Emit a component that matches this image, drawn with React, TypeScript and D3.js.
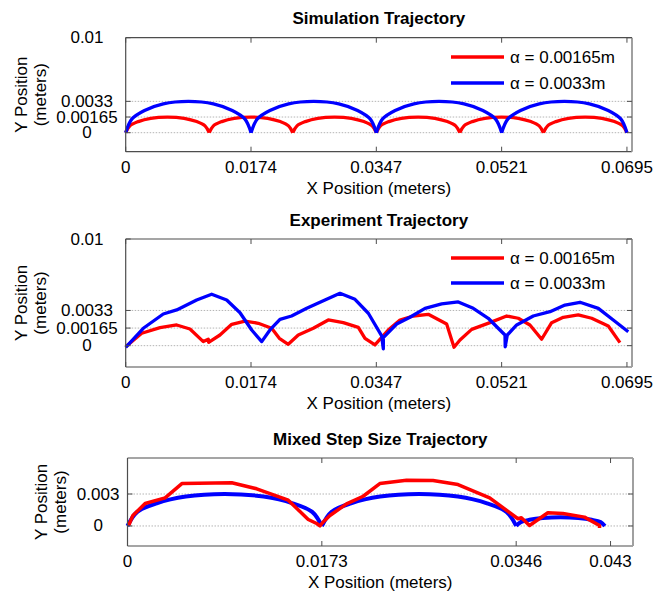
import React from "react";
import * as d3 from "d3";

// ---------- data (meters) ----------
const simXTicks = [0, 0.017375, 0.03475, 0.052125, 0.0695];
const simXTickLabels = ["0", "0.0174", "0.0347", "0.0521", "0.0695"];
const simYTicks = [0, 0.00165, 0.0033, 0.01];
const simYTickLabels = ["0", "0.00165", "0.0033", "0.01"];
const mixXTicks = [0, 0.0173, 0.0346, 0.043];
const mixXTickLabels = ["0", "0.0173", "0.0346", "0.043"];
const mixYTicks = [0, 0.003];
const mixYTickLabels = ["0", "0.003"];

const legendLabels = ["α = 0.00165m", "α = 0.0033m"];
const seriesColors = ["#ff0000", "#0000ff"];

// Simulation, alpha = 0.00165 m
const simRedX = [
  0, 0.00058, 0.00174, 0.00347, 0.00579, 0.00811, 0.00985, 0.011, 0.01158,
  0.01216, 0.01332, 0.01505, 0.01737, 0.01969, 0.02143, 0.02258, 0.02317,
  0.02375, 0.02491, 0.02664, 0.02896, 0.03128, 0.03302, 0.03417, 0.03475,
  0.03533, 0.03649, 0.03822, 0.04054, 0.04286, 0.0446, 0.04575, 0.04633,
  0.04691, 0.04807, 0.0498, 0.05212, 0.05444, 0.05618, 0.05733, 0.05792,
  0.0585, 0.05966, 0.06139, 0.06371, 0.06603, 0.06777, 0.06892, 0.0695,
];
const simRedY = [
  0, 0.00072, 0.00117, 0.00152, 0.00165, 0.00152, 0.00117, 0.00072, 0,
  0.00072, 0.00117, 0.00152, 0.00165, 0.00152, 0.00117, 0.00072, 0,
  0.00072, 0.00117, 0.00152, 0.00165, 0.00152, 0.00117, 0.00072, 0,
  0.00072, 0.00117, 0.00152, 0.00165, 0.00152, 0.00117, 0.00072, 0,
  0.00072, 0.00117, 0.00152, 0.00165, 0.00152, 0.00117, 0.00072, 0,
  0.00072, 0.00117, 0.00152, 0.00165, 0.00152, 0.00117, 0.00072, 0,
];
// Simulation, alpha = 0.0033 m
const simBlueX = [
  0, 0.00087, 0.00261, 0.00521, 0.00869, 0.01216, 0.01477, 0.01651, 0.01738,
  0.01825, 0.01999, 0.02259, 0.02607, 0.02954, 0.03215, 0.03389, 0.03475,
  0.03562, 0.03736, 0.03996, 0.04344, 0.04691, 0.04952, 0.05126, 0.05213,
  0.053, 0.05474, 0.05734, 0.06082, 0.06429, 0.0669, 0.06864, 0.0695,
];
const simBlueY = [
  0, 0.00145, 0.00234, 0.00304, 0.0033, 0.00304, 0.00234, 0.00145, 0,
  0.00145, 0.00234, 0.00304, 0.0033, 0.00304, 0.00234, 0.00145, 0,
  0.00145, 0.00234, 0.00304, 0.0033, 0.00304, 0.00234, 0.00145, 0,
  0.00145, 0.00234, 0.00304, 0.0033, 0.00304, 0.00234, 0.00145, 0,
];

// Experiment, alpha = 0.00165 m
const expRedX = [
  0, 0.00222, 0.00476, 0.00707, 0.00891, 0.01076, 0.01145, 0.0115, 0.01307,
  0.0147, 0.01654, 0.01838, 0.02024, 0.0213, 0.02254, 0.02393, 0.02601,
  0.02809, 0.03017, 0.03225, 0.03318, 0.03456, 0.0364, 0.03803, 0.03987,
  0.04195, 0.0445, 0.04552, 0.04635, 0.04797, 0.0505, 0.05282, 0.05443,
  0.05605, 0.05767, 0.05906, 0.06067, 0.06275, 0.06461, 0.06691, 0.06853,
];
const expRedY = [
  -0.0001, 0.00116, 0.00169, 0.00194, 0.00156, 0.00038, 0.0006, 0.00031, 0.001,
  0.002, 0.00231, 0.0021, 0.00163, 0.00069, 0.00013, 0.001, 0.00163,
  0.00241, 0.00216, 0.00172, 0.00069, 0.00007, 0.00147, 0.00241, 0.00278,
  0.00294, 0.00203, -0.00015, 0.00053, 0.00153, 0.00216, 0.00278, 0.00257,
  0.00194, 0.0006, 0.00216, 0.00266, 0.00288, 0.00257, 0.00185, 0.00028,
];
// Experiment, alpha = 0.0033 m
const expBlueX = [
  0, 0.00244, 0.00521, 0.00707, 0.00984, 0.01192, 0.014, 0.01585, 0.01747,
  0.01886, 0.02, 0.02139, 0.023, 0.0251, 0.02763, 0.02971, 0.03179, 0.03364,
  0.03549, 0.03572, 0.03572, 0.03757, 0.03941, 0.0415, 0.04381, 0.04611,
  0.04819, 0.05027, 0.05189, 0.05259, 0.05262, 0.05291, 0.05421, 0.05651,
  0.05883, 0.06091, 0.06299, 0.06553, 0.0676, 0.06968,
];
const expBlueY = [
  -0.00015, 0.00163, 0.00297, 0.00335, 0.00428, 0.00482, 0.00428, 0.00309, 0.00147,
  0.00038, 0.00147, 0.00247, 0.00278, 0.0035, 0.00428, 0.00491, 0.00435, 0.00304,
  0.00091, -0.0003, 0.00075, 0.00203, 0.00266, 0.0035, 0.00391, 0.0041,
  0.0035, 0.00257, 0.00147, 0.001, -0.0001, 0.001, 0.00194, 0.00278,
  0.00319, 0.00381, 0.00407, 0.0035, 0.00241, 0.00131,
];

// Mixed step size (red = experiment, blue = simulation)
const mixRedX = [
  0.0001, 0.00048, 0.00157, 0.00335, 0.00484, 0.00928, 0.0115, 0.01431, 0.01609,
  0.01684, 0.01713, 0.0174, 0.01802, 0.0195, 0.02098, 0.02246, 0.02484, 0.0272,
  0.02942, 0.03224, 0.03476, 0.03506, 0.03579, 0.03742, 0.03876, 0.04068, 0.04202,
  0.04202,
];
const mixRedY = [
  0.00005, 0.00098, 0.00211, 0.00264, 0.00398, 0.00405, 0.00349, 0.00242, 0.00061,
  0.00023, 0, 0.00035, 0.00098, 0.00208, 0.00279, 0.00398, 0.00429, 0.00427,
  0.00389, 0.00264, 0.00068, 0.00077, 0.00005, 0.00124, 0.00117, 0.00083, 0.00005,
  -0.0002,
];
const mixBlueX = [
  0, 0.00087, 0.0026, 0.00519, 0.00865, 0.01211, 0.0147, 0.01644, 0.0173,
  0.01817, 0.0199, 0.02249, 0.02595, 0.02941, 0.032, 0.03374, 0.0346,
  0.035, 0.03579, 0.03697, 0.03855, 0.04013, 0.04132, 0.04211, 0.0425,
];
const mixBlueY = [
  0, 0.00132, 0.00213, 0.00276, 0.003, 0.00276, 0.00213, 0.00132, 0,
  0.00132, 0.00213, 0.00276, 0.003, 0.00276, 0.00213, 0.00132, 0,
  0.00036, 0.00058, 0.00075, 0.00082, 0.00075, 0.00058, 0.00036, 0,
];

// ---------- rendering ----------
const FONT = "'Liberation Sans', Arial, Helvetica, sans-serif";
const FS = 17;

type Pt = [number, number];
const zip = (xs: number[], ys: number[]): Pt[] => xs.map((x, i) => [x, ys[i]]);

// split a bouncing trajectory into separate arcs at its landing points
function splitArcs(pts: Pt[]): Pt[][] {
  const segs: Pt[][] = [];
  let cur: Pt[] = [];
  pts.forEach((p, i) => {
    cur.push(p);
    if (i > 0 && i < pts.length - 1 && p[1] === 0) {
      segs.push(cur);
      cur = [p];
    }
  });
  segs.push(cur);
  return segs;
}

type Series = { pts: Pt[]; color: string; smooth: boolean; width?: number };

type PanelProps = {
  title: string;
  box: { x0: number; x1: number; y0: number; y1: number };
  xDomain: [number, number];
  yDomain: [number, number];
  xTicks: number[];
  xTickLabels: string[];
  yTicks: number[];
  yTickLabels: string[];
  series: Series[];
  legend: boolean;
  legendY: number[];
  titleY: number;
};

function Panel(p: PanelProps) {
  const x = d3.scaleLinear().domain(p.xDomain).range([p.box.x0, p.box.x1]);
  const y = d3.scaleLinear().domain(p.yDomain).range([p.box.y1, p.box.y0]);
  const lineLin = d3
    .line<Pt>()
    .x((d) => x(d[0]))
    .y((d) => y(d[1]));
  const lineSmooth = d3
    .line<Pt>()
    .x((d) => x(d[0]))
    .y((d) => y(d[1]))
    .curve(d3.curveCatmullRom.alpha(0.5));

  const { x0, x1, y0, y1 } = p.box;
  const tickLen = 5;
  const axisColor = "#4d4d4d";

  // tick labels are centred in their column
  const maxLabelW = Math.max(...p.yTickLabels.map((s) => s.length)) * FS * 0.55;
  const labelCx = x0 - 6 - maxLabelW / 2;
  const labelLeft = labelCx - maxLabelW / 2;
  const midY = (y0 + y1) / 2;

  return (
    <g>
      <text
        x={(x0 + x1) / 2}
        y={p.titleY}
        textAnchor="middle"
        dominantBaseline="central"
        fontFamily={FONT}
        fontSize={FS}
        fontWeight="bold"
      >
        {p.title}
      </text>
      {/* grid */}
      {p.yTicks
        .filter((t) => y(t) > y0 + 1)
        .map((t, i) => (
          <line
            key={"g" + i}
            x1={x0}
            x2={x1}
            y1={y(t)}
            y2={y(t)}
            stroke="#b4b4b4"
            strokeWidth={1}
            strokeDasharray="1.5 1.5"
          />
        ))}
      {/* series */}
      {p.series.map((s, i) =>
        s.smooth ? (
          splitArcs(s.pts).map((seg, j) => (
            <path
              key={"s" + i + "_" + j}
              d={lineSmooth(seg) || ""}
              fill="none"
              stroke={s.color}
              strokeWidth={s.width ?? 3.3}
              strokeLinejoin="round"
            />
          ))
        ) : (
          <path
            key={"s" + i}
            d={lineLin(s.pts) || ""}
            fill="none"
            stroke={s.color}
            strokeWidth={s.width ?? 3.3}
            strokeLinejoin="round"
          />
        )
      )}
      {/* box */}
      <line x1={x0} x2={x1} y1={y0} y2={y0} stroke={axisColor} strokeWidth={1.2} />
      <line x1={x0} x2={x1} y1={y1} y2={y1} stroke={axisColor} strokeWidth={1.2} />
      <line x1={x0} x2={x0} y1={y0} y2={y1} stroke={axisColor} strokeWidth={1.2} />
      <line x1={x1} x2={x1} y1={y0} y2={y1} stroke="#a0a0a0" strokeWidth={2} />
      {/* x ticks */}
      {p.xTicks.map((t, i) => (
        <g key={"xt" + i}>
          <line x1={x(t)} x2={x(t)} y1={y1} y2={y1 - tickLen} stroke={axisColor} />
          <line x1={x(t)} x2={x(t)} y1={y0} y2={y0 + tickLen} stroke={axisColor} />
          <text
            x={x(t)}
            y={y1 + 15.5}
            textAnchor="middle"
            dominantBaseline="central"
            fontFamily={FONT}
            fontSize={FS}
          >
            {p.xTickLabels[i]}
          </text>
        </g>
      ))}
      {/* y ticks */}
      {p.yTicks.map((t, i) => (
        <g key={"yt" + i}>
          <line x1={x0} x2={x0 + tickLen} y1={y(t)} y2={y(t)} stroke={axisColor} />
          <line x1={x1} x2={x1 - tickLen} y1={y(t)} y2={y(t)} stroke={axisColor} />
          <text
            x={labelCx}
            y={y(t)}
            textAnchor="middle"
            dominantBaseline="central"
            fontFamily={FONT}
            fontSize={FS}
          >
            {p.yTickLabels[i]}
          </text>
        </g>
      ))}
      {/* axis labels */}
      <text
        x={(x0 + x1) / 2}
        y={y1 + 36.5}
        textAnchor="middle"
        dominantBaseline="central"
        fontFamily={FONT}
        fontSize={FS}
      >
        X Position (meters)
      </text>
      <text
        transform={`translate(${labelLeft - 33},${midY}) rotate(-90)`}
        textAnchor="middle"
        dominantBaseline="central"
        fontFamily={FONT}
        fontSize={FS}
      >
        Y Position
      </text>
      <text
        transform={`translate(${labelLeft - 14},${midY}) rotate(-90)`}
        textAnchor="middle"
        dominantBaseline="central"
        fontFamily={FONT}
        fontSize={FS}
      >
        (meters)
      </text>
      {/* legend */}
      {p.legend &&
        legendLabels.map((lab, i) => (
          <g key={"lg" + i}>
            <line
              x1={451}
              x2={504}
              y1={p.legendY[i]}
              y2={p.legendY[i]}
              stroke={seriesColors[i]}
              strokeWidth={3.3}
            />
            <text
              x={510}
              y={p.legendY[i]}
              dominantBaseline="central"
              fontFamily={FONT}
              fontSize={FS}
            >
              {lab}
            </text>
          </g>
        ))}
    </g>
  );
}

export default function App() {
  return (
    <svg
      width={668}
      height={591}
      style={{ position: "absolute", left: 0, top: 0, background: "#fff" }}
    >
      <rect width={668} height={591} fill="#fff" />
      <Panel
        title="Simulation Trajectory"
        titleY={18}
        box={{ x0: 125.7, x1: 632, y0: 37.7, y1: 151.7 }}
        xDomain={[0, 0.0702]}
        yDomain={[-0.002, 0.01]}
        xTicks={simXTicks}
        xTickLabels={simXTickLabels}
        yTicks={simYTicks}
        yTickLabels={simYTickLabels}
        series={[
          { pts: zip(simRedX, simRedY), color: seriesColors[0], smooth: true },
          { pts: zip(simBlueX, simBlueY), color: seriesColors[1], smooth: true },
        ]}
        legend={true}
        legendY={[57, 83]}
      />
      <Panel
        title="Experiment Trajectory"
        titleY={220}
        box={{ x0: 125.7, x1: 632, y0: 239, y1: 367 }}
        xDomain={[0, 0.0702]}
        yDomain={[-0.002, 0.01]}
        xTicks={simXTicks}
        xTickLabels={simXTickLabels}
        yTicks={simYTicks}
        yTickLabels={simYTickLabels}
        series={[
          { pts: zip(expRedX, expRedY), color: seriesColors[0], smooth: false },
          { pts: zip(expBlueX, expBlueY), color: seriesColors[1], smooth: false },
        ]}
        legend={true}
        legendY={[258, 283]}
      />
      <Panel
        title="Mixed Step Size Trajectory"
        titleY={439}
        box={{ x0: 127.5, x1: 633, y0: 458, y1: 546 }}
        xDomain={[0, 0.045]}
        yDomain={[-0.00188, 0.00638]}
        xTicks={mixXTicks}
        xTickLabels={mixXTickLabels}
        yTicks={mixYTicks}
        yTickLabels={mixYTickLabels}
        series={[
          { pts: zip(mixBlueX, mixBlueY), color: seriesColors[1], smooth: true, width: 4 },
          { pts: zip(mixRedX, mixRedY), color: seriesColors[0], smooth: false, width: 3.5 },
        ]}
        legend={false}
        legendY={[]}
      />
    </svg>
  );
}
